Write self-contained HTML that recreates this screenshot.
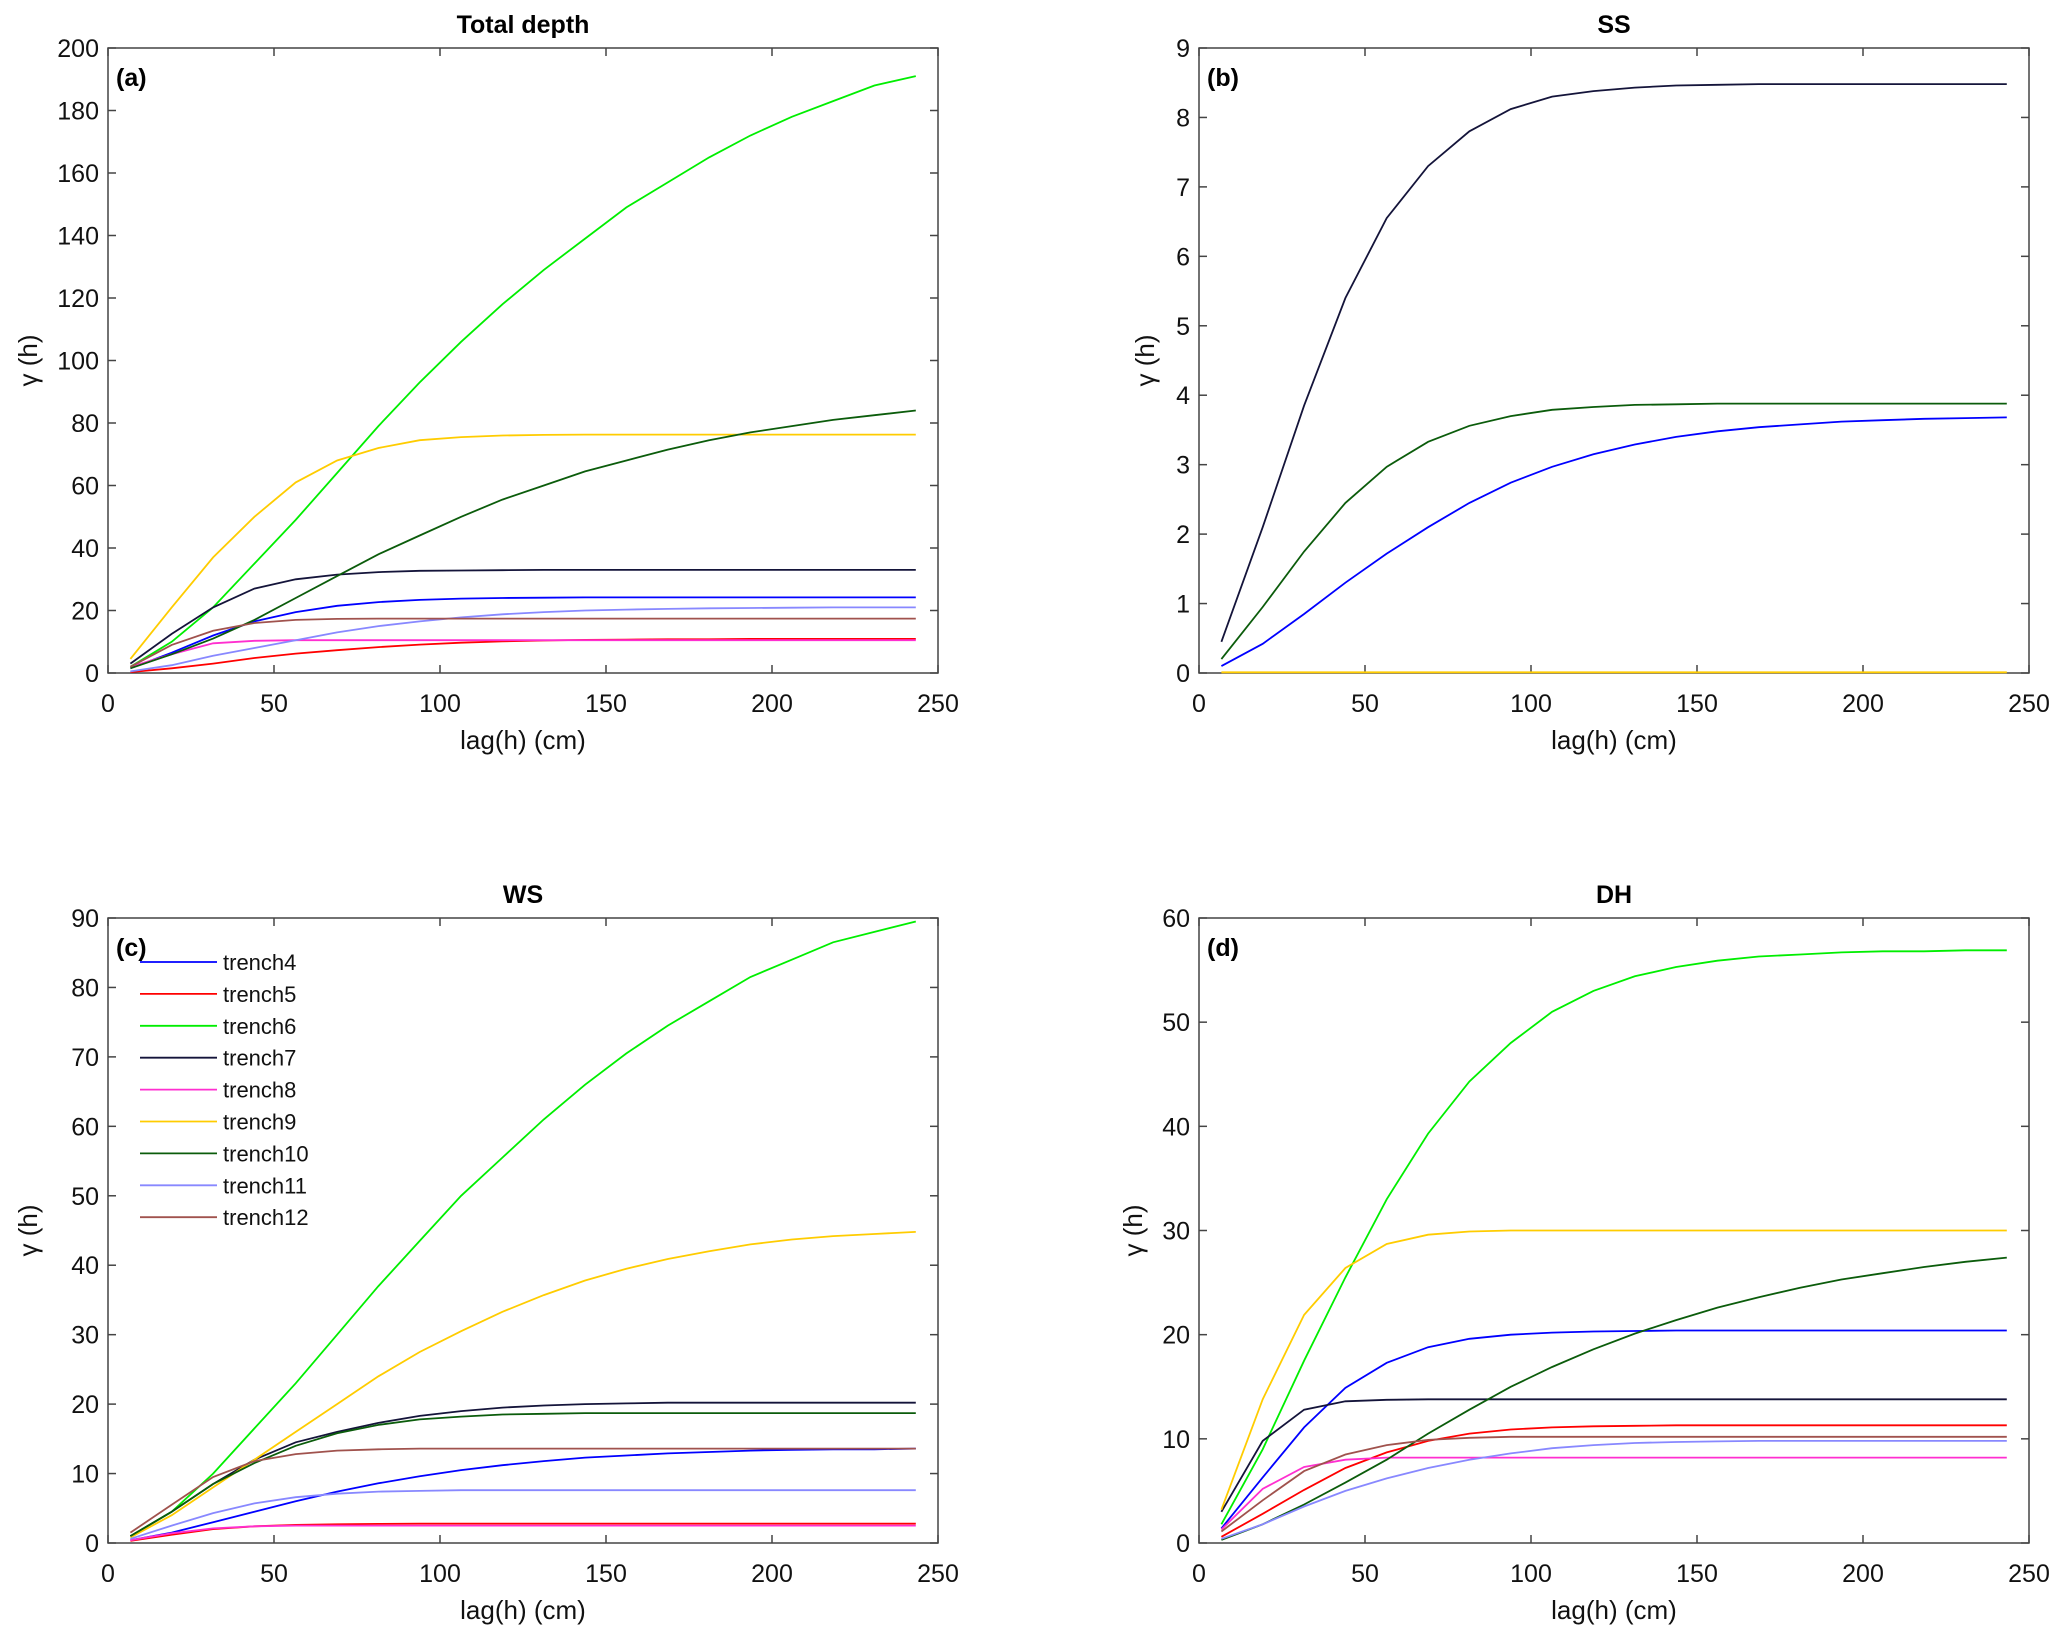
<!DOCTYPE html>
<html><head><meta charset="utf-8"><style>
html,body{margin:0;padding:0;background:#fff}
svg{display:block;font-family:"Liberation Sans",Arial,sans-serif}
</style></head><body>
<svg id="fig" width="2067" height="1643" viewBox="0 0 2067 1643" xmlns="http://www.w3.org/2000/svg"></svg>
<script>
const lags = [6.75,19.2,31.65,44.1,56.55,69,81.45,93.9,106.35,118.8,131.25,143.7,156.15,168.6,181.05,193.5,205.95,218.4,230.85,243.3];
const trenchNames = ["trench4","trench5","trench6","trench7","trench8","trench9","trench10","trench11","trench12"];
const trenchColors = ["#0000ff","#ff0000","#00ee00","#14143a","#ff2fd0","#ffcc00","#0b5c0b","#8888ff","#a0524d"];
const xTicks = [0,50,100,150,200,250];
// panel (a) Total depth
const aT4 = [1.5,6.5,12,16.5,19.5,21.5,22.7,23.4,23.8,24,24.1,24.2,24.2,24.2,24.2,24.2,24.2,24.2,24.2,24.2];
const aT5 = [0.3,1.5,3,4.8,6.2,7.3,8.3,9.1,9.7,10.1,10.4,10.6,10.7,10.8,10.8,10.9,10.9,10.9,10.9,10.9];
const aT6 = [2,10,21,35,49,64,79,93,106,118,129,139,149,157,165,172,178,183,188,191];
const aT7 = [3,12.5,21,27,30,31.5,32.3,32.7,32.8,32.9,33,33,33,33,33,33,33,33,33,33];
const aT8 = [2,6,9.5,10.3,10.5,10.5,10.5,10.5,10.5,10.5,10.5,10.5,10.5,10.5,10.5,10.5,10.5,10.5,10.5,10.5];
const aT9 = [4.5,21,37,50,61,68,72,74.5,75.5,76,76.2,76.3,76.3,76.3,76.3,76.3,76.3,76.3,76.3,76.3];
const aT10 = [1.5,6,11,17,24,31,38,44,50,55.5,60,64.5,68,71.5,74.5,77,79,81,82.5,84];
const aT11 = [0.5,2.5,5.5,8,10.5,13,15,16.5,17.8,18.8,19.5,20,20.3,20.5,20.7,20.8,20.9,21,21,21];
const aT12 = [2,9,13.5,16,17,17.3,17.4,17.4,17.4,17.4,17.4,17.4,17.4,17.4,17.4,17.4,17.4,17.4,17.4,17.4];
const aYTicks = [0,20,40,60,80,100,120,140,160,180,200];
// panel (b) SS
const bT4 = [0.1,0.42,0.85,1.3,1.72,2.1,2.45,2.74,2.97,3.15,3.29,3.4,3.48,3.54,3.58,3.62,3.64,3.66,3.67,3.68];
const bT7 = [0.45,2.1,3.85,5.4,6.55,7.3,7.8,8.12,8.3,8.38,8.43,8.46,8.47,8.48,8.48,8.48,8.48,8.48,8.48,8.48];
const bT9 = [0.01,0.01,0.01,0.01,0.01,0.01,0.01,0.01,0.01,0.01,0.01,0.01,0.01,0.01,0.01,0.01,0.01,0.01,0.01,0.01];
const bT10 = [0.2,0.95,1.75,2.45,2.97,3.33,3.56,3.7,3.79,3.83,3.86,3.87,3.88,3.88,3.88,3.88,3.88,3.88,3.88,3.88];
const bYTicks = [0,1,2,3,4,5,6,7,8,9];
// panel (c) WS
const cT4 = [0.4,1.5,3,4.5,6,7.4,8.6,9.6,10.5,11.2,11.8,12.3,12.6,12.9,13.1,13.3,13.4,13.5,13.5,13.6];
const cT5 = [0.3,1.2,2,2.4,2.6,2.7,2.75,2.8,2.8,2.8,2.8,2.8,2.8,2.8,2.8,2.8,2.8,2.8,2.8,2.8];
const cT6 = [1,4.5,10,16.5,23,30,37,43.5,50,55.5,61,66,70.5,74.5,78,81.5,84,86.5,88,89.5];
const cT7 = [1,4.5,8.5,12,14.5,16,17.3,18.3,19,19.5,19.8,20,20.1,20.2,20.2,20.2,20.2,20.2,20.2,20.2];
const cT8 = [0.4,1.4,2.1,2.4,2.5,2.5,2.5,2.5,2.5,2.5,2.5,2.5,2.5,2.5,2.5,2.5,2.5,2.5,2.5,2.5];
const cT9 = [0.8,4,8,12,16,20,24,27.5,30.5,33.3,35.7,37.8,39.5,40.9,42,43,43.7,44.2,44.5,44.8];
const cT10 = [1,4.5,8.5,11.5,14,15.8,17,17.8,18.2,18.5,18.6,18.7,18.7,18.7,18.7,18.7,18.7,18.7,18.7,18.7];
const cT11 = [0.6,2.5,4.3,5.7,6.6,7.1,7.4,7.5,7.6,7.6,7.6,7.6,7.6,7.6,7.6,7.6,7.6,7.6,7.6,7.6];
const cT12 = [1.5,5.5,9.5,11.8,12.8,13.3,13.5,13.6,13.6,13.6,13.6,13.6,13.6,13.6,13.6,13.6,13.6,13.6,13.6,13.6];
const cYTicks = [0,10,20,30,40,50,60,70,80,90];
// panel (d) DH
const dT4 = [1.4,6.3,11.1,14.9,17.3,18.8,19.6,20,20.2,20.3,20.35,20.4,20.4,20.4,20.4,20.4,20.4,20.4,20.4,20.4];
const dT5 = [0.6,2.8,5.1,7.2,8.7,9.8,10.5,10.9,11.1,11.2,11.25,11.3,11.3,11.3,11.3,11.3,11.3,11.3,11.3,11.3];
const dT6 = [1.8,9,17.5,25.5,33,39.3,44.3,48,51,53,54.4,55.3,55.9,56.3,56.5,56.7,56.8,56.8,56.9,56.9];
const dT7 = [3,9.8,12.8,13.6,13.75,13.8,13.8,13.8,13.8,13.8,13.8,13.8,13.8,13.8,13.8,13.8,13.8,13.8,13.8,13.8];
const dT8 = [1.3,5.2,7.3,8,8.2,8.2,8.2,8.2,8.2,8.2,8.2,8.2,8.2,8.2,8.2,8.2,8.2,8.2,8.2,8.2];
const dT9 = [3.2,13.8,21.9,26.4,28.7,29.6,29.9,30,30,30,30,30,30,30,30,30,30,30,30,30];
const dT10 = [0.3,1.8,3.7,5.8,8,10.5,12.8,15,16.9,18.6,20.1,21.4,22.6,23.6,24.5,25.3,25.9,26.5,27,27.4];
const dT11 = [0.4,1.8,3.5,5,6.2,7.2,8,8.6,9.1,9.4,9.6,9.7,9.75,9.8,9.8,9.8,9.8,9.8,9.8,9.8];
const dT12 = [1.1,4.1,6.9,8.5,9.4,9.9,10.1,10.2,10.2,10.2,10.2,10.2,10.2,10.2,10.2,10.2,10.2,10.2,10.2,10.2];
const dYTicks = [0,10,20,30,40,50,60];

const NS = "http://www.w3.org/2000/svg";
const svg = document.getElementById("fig");
function mk(tag, attrs, parent){
  const e = document.createElementNS(NS, tag);
  for (const k in attrs) e.setAttribute(k, attrs[k]);
  (parent||svg).appendChild(e);
  return e;
}
const W = 830, H = 625;
const panels = [
  {id:"a", title:"Total depth", L:108, T:48, ymax:200, yt:aYTicks, ylx:-71, series:[aT4,aT5,aT6,aT7,aT8,aT9,aT10,aT11,aT12]},
  {id:"b", title:"SS", L:1199, T:48, ymax:9, yt:bYTicks, ylx:-45, series:[bT4,null,null,bT7,null,bT9,bT10,null,null]},
  {id:"c", title:"WS", L:108, T:918, ymax:90, yt:cYTicks, ylx:-71, series:[cT4,cT5,cT6,cT7,cT8,cT9,cT10,cT11,cT12], legend:true},
  {id:"d", title:"DH", L:1199, T:918, ymax:60, yt:dYTicks, ylx:-57, series:[dT4,dT5,dT6,dT7,dT8,dT9,dT10,dT11,dT12]}
];
panels.forEach(p => {
  const g = mk("g", {});
  
  
  const xs = v => p.L + v / 250 * W;
  const ys = v => p.T + H - v / p.ymax * H;
  const bx = mk("rect", {x:p.L, y:p.T, width:W, height:H, fill:"#fff", stroke:"#444", "stroke-width":1.5}, g);
  
  
  xTicks.forEach(t => {
    const x = xs(t);
    mk("line", {x1:x, x2:x, y1:p.T+H, y2:p.T+H-8, stroke:"#444", "stroke-width":1.5}, g);
    mk("line", {x1:x, x2:x, y1:p.T, y2:p.T+8, stroke:"#444", "stroke-width":1.5}, g);
    const tx = mk("text", {x:x, y:p.T+H+39, "text-anchor":"middle", "font-size":25, fill:"#111"}, g);
    tx.textContent = t;
    
    
  });
  p.yt.forEach(t => {
    const y = ys(t);
    mk("line", {x1:p.L, x2:p.L+8, y1:y, y2:y, stroke:"#444", "stroke-width":1.5}, g);
    mk("line", {x1:p.L+W, x2:p.L+W-8, y1:y, y2:y, stroke:"#444", "stroke-width":1.5}, g);
    const tx = mk("text", {x:p.L-9, y:y+9, "text-anchor":"end", "font-size":25, fill:"#111"}, g);
    tx.textContent = t;
    
    
  });
  p.series.forEach((s, i) => {
    if (!s) return;
    const pts = s.map((v, j) => xs(lags[j]).toFixed(1) + "," + ys(v).toFixed(1)).join(" ");
    const pl = mk("polyline", {points:pts, fill:"none", stroke:trenchColors[i], "stroke-width":1.8}, g);
    
    
  });
  const ti = mk("text", {x:p.L+W/2, y:p.T-15, "text-anchor":"middle", "font-size":25, "font-weight":"bold", fill:"#000"}, g);
  ti.textContent = p.title;
  
  
  const lt = mk("text", {x:p.L+8, y:p.T+38, "font-size":25, "font-weight":"bold", fill:"#000"}, g);
  lt.textContent = "(" + p.id + ")";
  
  
  const xl = mk("text", {x:p.L+W/2, y:p.T+H+76, "text-anchor":"middle", "font-size":26, fill:"#111"}, g);
  xl.textContent = "lag(h) (cm)";
  
  
  const yx = p.L + p.ylx, yy = p.T + H/2;
  const yl = mk("text", {x:yx, y:yy, "text-anchor":"middle", "font-size":26, fill:"#111", transform:"rotate(-90 " + yx + " " + yy + ")"}, g);
  yl.textContent = "γ (h)";
  
  
  if (p.legend) {
    const lg = mk("g", {}, g);
    
    
    trenchNames.forEach((n, i) => {
      const y = p.T + 44 + i * 31.9;
      const ln = mk("line", {x1:140, x2:217, y1:y, y2:y, stroke:trenchColors[i], "stroke-width":1.8}, lg);
      
      
      const tx = mk("text", {x:223, y:y+8, "font-size":22, fill:"#111"}, lg);
      tx.textContent = n;
      
      
    });
  }
});
</script>
</body></html>
